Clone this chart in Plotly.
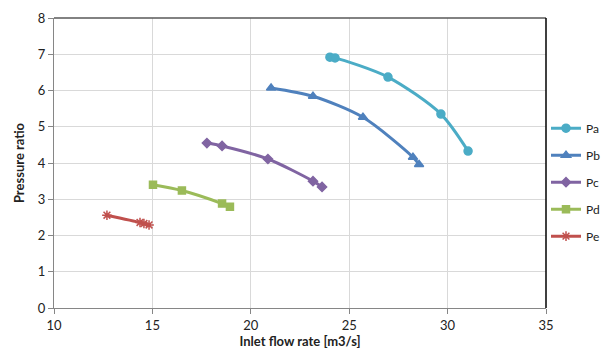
import plotly.graph_objects as go

# Data
pa_x = [24.02, 24.28, 26.97, 29.66, 31.04]
pa_y = [6.92, 6.90, 6.37, 5.35, 4.33]
pb_x = [21.03, 23.16, 25.70, 28.24, 28.55]
pb_y = [6.07, 5.84, 5.26, 4.16, 3.96]
pc_x = [17.77, 18.54, 20.87, 23.16, 23.62]
pc_y = [4.55, 4.47, 4.11, 3.50, 3.34]
pd_x = [15.03, 16.50, 18.54, 18.94]
pd_y = [3.40, 3.24, 2.88, 2.79]
pe_x = [12.69, 14.37, 14.57, 14.83]
pe_y = [2.56, 2.36, 2.33, 2.29]

x_ticks = [10, 15, 20, 25, 30, 35]
y_ticks = [0, 1, 2, 3, 4, 5, 6, 7, 8]

series = [
    ("Pa", pa_x, pa_y, "#4BACC6", "circle", 8),
    ("Pb", pb_x, pb_y, "#4F81BD", "triangle-up", 8),
    ("Pc", pc_x, pc_y, "#8064A2", "diamond", 7),
    ("Pd", pd_x, pd_y, "#9BBB59", "square", 7),
    ("Pe", pe_x, pe_y, "#C0504D", "asterisk-open", 8),
]

FONT = "Lato, Carlito, 'Liberation Sans', sans-serif"

fig = go.Figure()
for name, xs, ys, col, sym, sz in series:
    fig.add_trace(go.Scatter(
        x=xs, y=ys, name=name, mode="lines+markers", legendgroup=name,
        line=dict(color=col, width=3, shape="spline", smoothing=0.8),
        marker=dict(symbol=sym, size=sz, color=col,
                    line=dict(color=col, width=1.5)),
    ))

# page body has an 8px margin, so the figure is 602x348 and offset by 8px
fig.update_layout(
    width=602, height=348,
    margin=dict(l=46, r=64, t=10, b=48, autoexpand=False),
    paper_bgcolor="white", plot_bgcolor="white",
    font=dict(family=FONT, size=12, color="#222222"),
    showlegend=True,
    legend=dict(x=1.0, xanchor="left", y=0.434, yanchor="middle",
                font=dict(size=12, color="#222222"),
                traceorder="grouped", tracegroupgap=8, itemwidth=30,
                bgcolor="rgba(0,0,0,0)"),
    xaxis=dict(
        range=[10, 35], tickvals=x_ticks, ticktext=[str(v) for v in x_ticks],
        showgrid=True, gridcolor="#D9D9D9", gridwidth=1,
        showline=True, linecolor="#868686", linewidth=1,
        ticks="outside", ticklen=5, tickcolor="#868686",
        zeroline=False, automargin=False,
        title=dict(text="<b>Inlet flow rate [m3/s]</b>", font=dict(size=13), standoff=4),
        tickfont=dict(size=13),
    ),
    yaxis=dict(
        range=[0, 8], tickvals=y_ticks, ticktext=[str(v) for v in y_ticks],
        showgrid=True, gridcolor="#D9D9D9", gridwidth=1,
        showline=True, linecolor="#868686", linewidth=1,
        ticks="outside", ticklen=5, tickcolor="#868686",
        zeroline=False, automargin=False,
        title=dict(text="<b>Pressure ratio</b>", font=dict(size=13), standoff=10),
        tickfont=dict(size=13),
    ),
    shapes=[
        dict(type="line", xref="paper", yref="paper", x0=0, x1=1, y0=1, y1=1,
             line=dict(color="#595959", width=1.5)),
        dict(type="line", xref="paper", yref="paper", x0=1, x1=1, y0=0, y1=1,
             line=dict(color="#000000", width=1.5)),
    ],
)

fig.write_html("out.html")
